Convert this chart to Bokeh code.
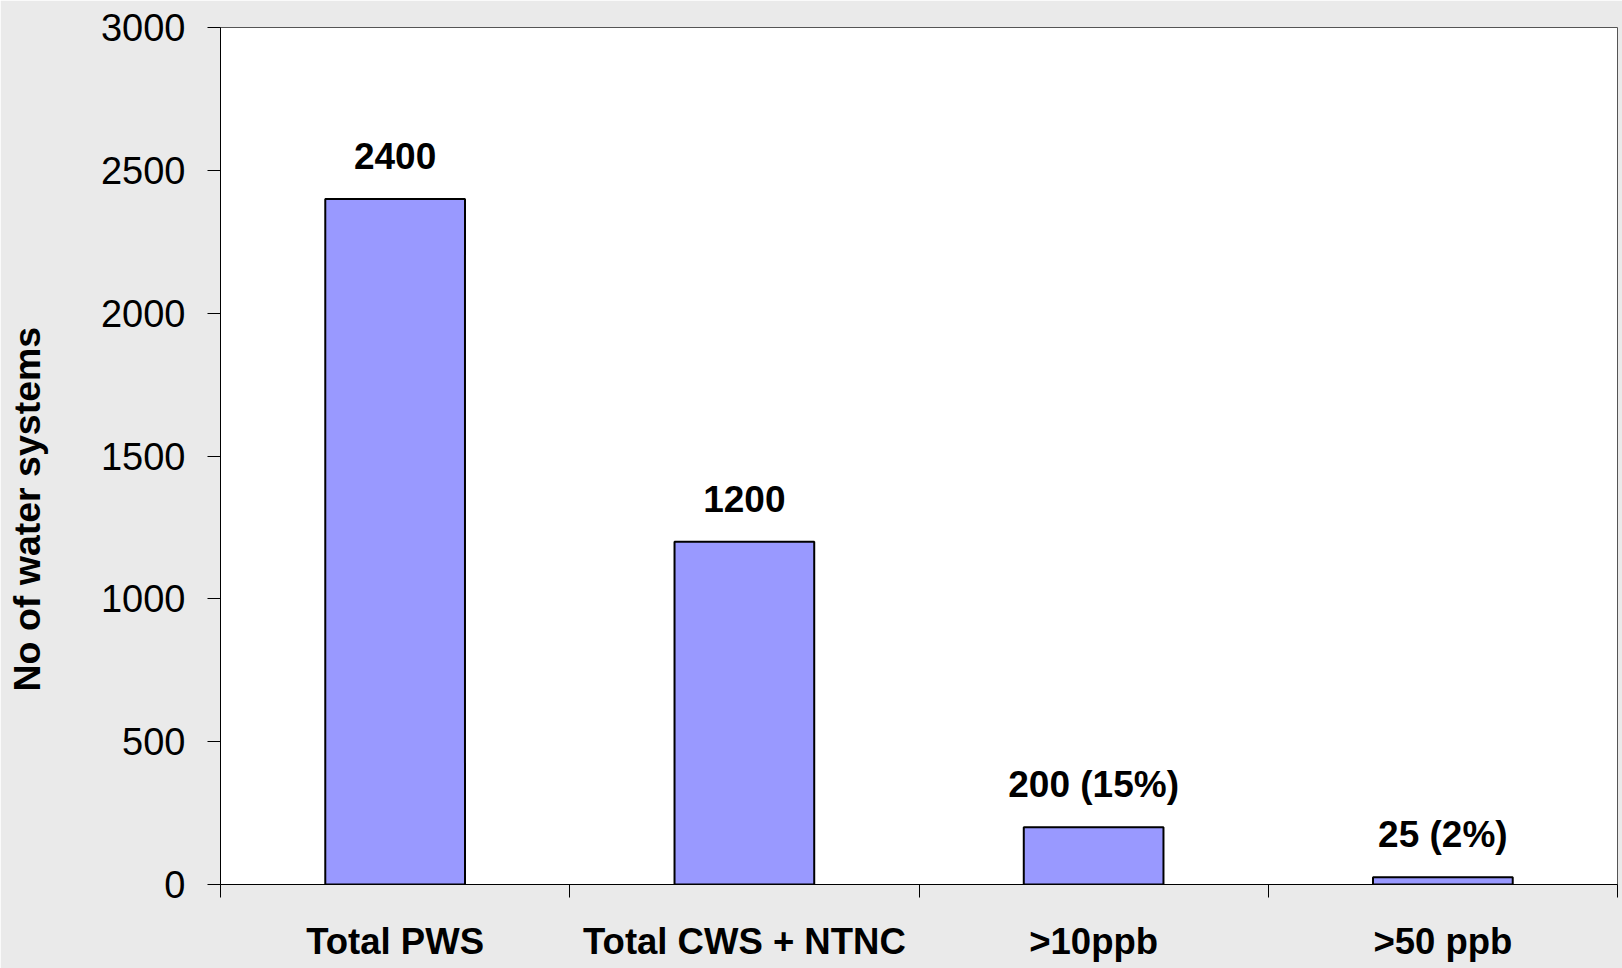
from bokeh.plotting import figure
from bokeh.models import Range1d, FixedTicker, ColumnDataSource, LabelSet, Title, LinearAxis
from bokeh.core.properties import value
from bokeh.embed import file_html
from bokeh.resources import INLINE

categories = ["Total PWS", "Total CWS + NTNC", ">10ppb", ">50 ppb"]
values = [2400, 1200, 200, 25]
bar_labels = ["2400", "1200", "200 (15%)", "25 (2%)"]
y_ticks = [0, 500, 1000, 1500, 2000, 2500, 3000]
y_title = "No of water systems"

FONT = "Liberation Sans"
BG = "#EAEAEA"

centers = [i + 0.5 for i in range(len(categories))]
src = ColumnDataSource(dict(x=centers, top=values, label=bar_labels))

p = figure(width=1622, height=968, output_backend="svg", toolbar_location=None,
           x_range=Range1d(0, len(categories)), y_range=Range1d(0, 3000),
           min_border_left=220, min_border_right=5, min_border_top=27, min_border_bottom=84)
p.background_fill_color = "white"
p.border_fill_color = BG
p.outline_line_color = "#555555"
p.outline_line_width = 1
p.xgrid.visible = False
p.ygrid.visible = False

p.vbar(x="x", top="top", width=0.40, source=src, fill_color="#9999FF",
       line_color="black", line_width=2)

labels = LabelSet(x="x", y="top", text="label", source=src, y_offset=30,
                  text_align="center", text_baseline="alphabetic",
                  text_font=value(FONT), text_font_style="bold", text_font_size="37px",
                  text_color="black")
p.add_layout(labels)

# y axis
p.yaxis.ticker = FixedTicker(ticks=y_ticks)
p.yaxis.minor_tick_line_color = None
p.yaxis.major_tick_in = 0
p.yaxis.major_tick_out = 13
p.yaxis.major_label_standoff = 22
p.yaxis.major_label_text_font = FONT
p.yaxis.major_label_text_font_size = "38px"
p.yaxis.major_label_text_color = "black"
p.yaxis.axis_line_color = "black"
p.yaxis.major_tick_line_color = "black"

# x axis: labels at centers, tick marks at category boundaries
p.xaxis.ticker = FixedTicker(ticks=centers, minor_ticks=list(range(len(categories) + 1)))
p.xaxis.major_label_overrides = {c: name for c, name in zip(centers, categories)}
p.xaxis.major_tick_in = 0
p.xaxis.major_tick_out = 0
p.xaxis.minor_tick_in = 0
p.xaxis.minor_tick_out = 13
p.xaxis.minor_tick_line_color = "black"
p.xaxis.major_label_standoff = 23
p.xaxis.major_label_text_font = FONT
p.xaxis.major_label_text_font_style = "bold"
p.xaxis.major_label_text_font_size = "36.5px"
p.xaxis.major_label_text_color = "black"
p.xaxis.axis_line_color = "black"

# spacer between the y axis and its title: one background-coloured tick, no label
spacer_tick = 2900
spacer = LinearAxis(ticker=FixedTicker(ticks=[spacer_tick]),
                    major_label_overrides={spacer_tick: ""},
                    major_label_standoff=0, major_label_text_font_size="1px",
                    axis_line_color=None,
                    major_tick_in=0, major_tick_out=50, major_tick_line_color=BG,
                    minor_tick_in=0, minor_tick_out=0, minor_tick_line_color=None)
p.add_layout(spacer, "left")

ytitle = Title(text=y_title, align="left", offset=193, standoff=0,
               vertical_align="bottom",
               text_font=FONT, text_font_style="bold", text_font_size="37.5px",
               text_color="black")
p.add_layout(ytitle, "left")

open("out.html", "w").write(file_html(p, INLINE))
